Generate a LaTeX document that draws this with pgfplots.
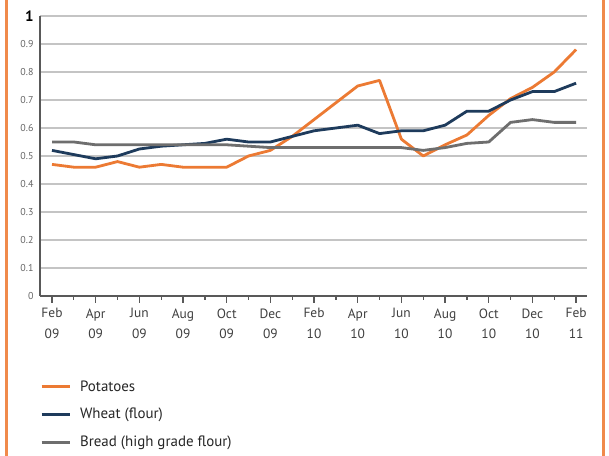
\documentclass[border=0pt]{standalone}
\usepackage{fontspec}
\setmainfont{PT Sans}
\usepackage{pgfplots}
\pgfplotsset{compat=1.18}
\definecolor{potato}{HTML}{EC7A33}
\definecolor{wheat}{HTML}{1E3B5C}
\definecolor{bread}{HTML}{6E6E6E}
\definecolor{frameor}{HTML}{F08A4B}
\definecolor{gridc}{HTML}{C4C4C4}
\begin{document}
\begin{tikzpicture}[x=1bp,y=1bp]
\path[use as bounding box] (0,0) rectangle (609,456);
\fill[white] (0,0) rectangle (609,456);
\fill[frameor] (5,0) rectangle (7.5,456);
\fill[frameor] (601.5,0) rectangle (604.5,456);
\begin{axis}[
  at={(40bp,160bp)}, anchor=south west,
  scale only axis, width=547bp, height=280bp,
  xmin=-0.55, xmax=24.5, ymin=0, ymax=1,
  axis x line=bottom, axis y line=left,
  axis line style={draw=black!65, line width=1.8bp, -},
  xtick={0,2,4,6,8,10,12,14,16,18,20,22,24},
  minor xtick={1,3,5,7,9,11,13,15,17,19,21,23},
  xticklabels={{Feb\\09},{Apr\\09},{Jun\\09},{Aug\\09},{Oct\\09},{Dec\\09},{Feb\\10},{Apr\\10},{Jun\\10},{Aug\\10},{Oct\\10},{Dec\\10},{Feb\\11}},
  xticklabel style={align=center, font=\fontsize{13.5}{20.5}\selectfont, text=black!75, yshift=-2bp},
  ytick={0,0.1,0.2,0.3,0.4,0.5,0.6,0.7,0.8,0.9,1},
  yticklabels={0,0.1,0.2,0.3,0.4,0.5,0.6,0.7,0.8,0.9,{\color{black}\fontsize{15}{15}\selectfont\bfseries 1}},
  yticklabel style={font=\fontsize{10}{12}\selectfont, text=black!60, xshift=4bp},
  ytick style={draw=none},
  /pgf/number format/assume math mode=true,
  ymajorgrids, major grid style={gridc, line width=2.2bp},
  tick align=outside,
  major tick length=7bp, minor tick length=4bp,
  xtick style={draw=black!65, line width=1.3bp},
  minor x tick style={draw=black!65, line width=1.3bp},
  legend style={at={(0,-0.295)}, anchor=north west, draw=none, fill=none,
    font=\fontsize{15}{18}\selectfont, text=black!85, row sep=11.5bp,
    inner xsep=0pt, inner ysep=0pt, cells={anchor=west}},
  legend image code/.code={\draw[#1, line width=3bp] (0bp,0bp) -- (28bp,0bp);
    \path (35bp,0bp);},
  every axis plot/.append style={line width=2.8bp, line join=round},
]
\addplot[potato] coordinates {
(0,0.47)(1,0.46)(2,0.46)(3,0.48)(4,0.46)(5,0.47)(6,0.46)(7,0.46)(8,0.46)(9,0.50)
(10,0.52)(11,0.57)(12,0.63)(13,0.69)(14,0.75)(15,0.77)(16,0.56)(17,0.50)(18,0.54)
(19,0.575)(20,0.645)(21,0.705)(22,0.745)(23,0.80)(24,0.88)};
\addlegendentry{Potatoes}
\addplot[wheat] coordinates {
(0,0.52)(1,0.505)(2,0.49)(3,0.50)(4,0.525)(5,0.535)(6,0.54)(7,0.545)(8,0.56)(9,0.55)
(10,0.55)(11,0.57)(12,0.59)(13,0.60)(14,0.61)(15,0.58)(16,0.59)(17,0.59)(18,0.61)
(19,0.66)(20,0.66)(21,0.70)(22,0.73)(23,0.73)(24,0.76)};
\addlegendentry{Wheat (flour)}
\addplot[bread] coordinates {
(0,0.55)(1,0.55)(2,0.54)(3,0.54)(4,0.54)(5,0.54)(6,0.54)(7,0.54)(8,0.54)(9,0.535)
(10,0.53)(11,0.53)(12,0.53)(13,0.53)(14,0.53)(15,0.53)(16,0.53)(17,0.52)(18,0.53)
(19,0.545)(20,0.55)(21,0.62)(22,0.63)(23,0.62)(24,0.62)};
\addlegendentry{Bread (high grade flour)}
\end{axis}
\end{tikzpicture}
\end{document}
